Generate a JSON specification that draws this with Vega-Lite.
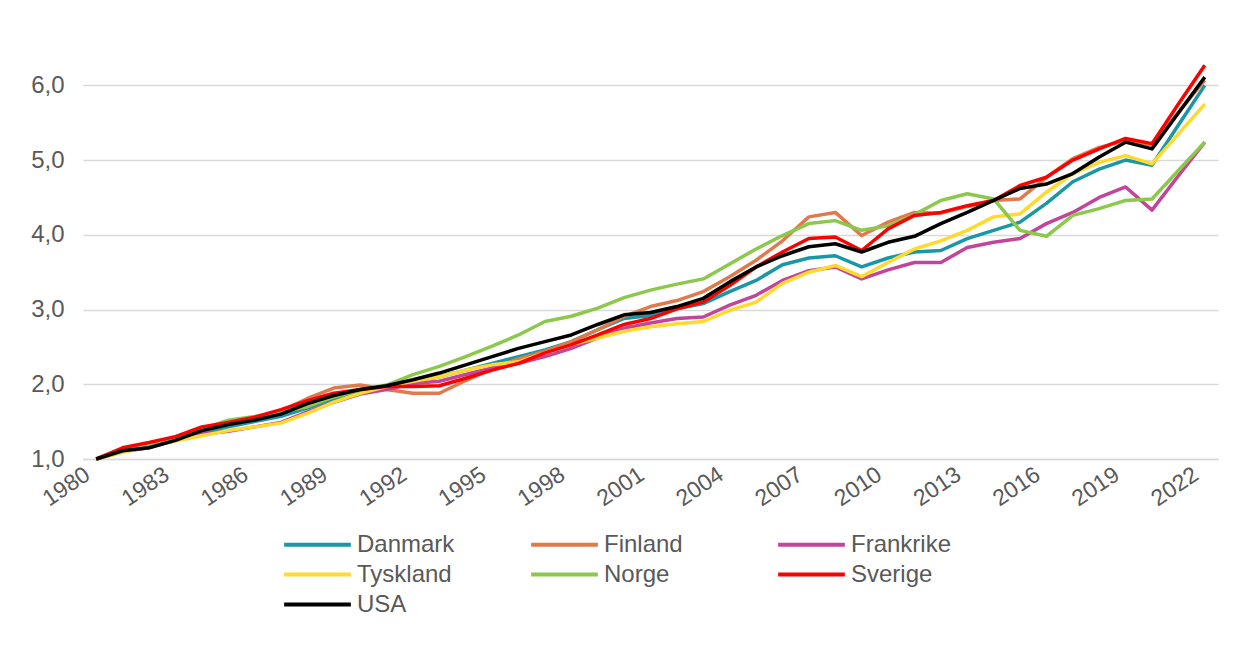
{
  "$schema": "https://vega.github.io/schema/vega-lite/v6.json",
  "width": 1135,
  "height": 411,
  "autosize": {"type": "none"},
  "padding": {"left": 83, "top": 48, "right": 32, "bottom": 187},
  "background": "white",
  "config": {
    "view": {"stroke": null},
    "font": "Liberation Sans",
    "axis": {"labelFont": "Liberation Sans", "labelColor": "#595959"},
    "legend": {"labelFont": "Liberation Sans", "labelColor": "#595959"}
  },
  "data": {
    "values": [
      {"year": 1980, "Danmark": 1.00, "Finland": 1.00, "Frankrike": 1.00, "Tyskland": 1.00, "Norge": 1.00, "Sverige": 1.00, "USA": 1.00},
      {"year": 1981, "Danmark": 1.10, "Finland": 1.14, "Frankrike": 1.10, "Tyskland": 1.09, "Norge": 1.12, "Sverige": 1.15, "USA": 1.11},
      {"year": 1982, "Danmark": 1.17, "Finland": 1.21, "Frankrike": 1.15, "Tyskland": 1.17, "Norge": 1.19, "Sverige": 1.22, "USA": 1.15},
      {"year": 1983, "Danmark": 1.26, "Finland": 1.29, "Frankrike": 1.25, "Tyskland": 1.24, "Norge": 1.28, "Sverige": 1.30, "USA": 1.25},
      {"year": 1984, "Danmark": 1.35, "Finland": 1.41, "Frankrike": 1.33, "Tyskland": 1.31, "Norge": 1.40, "Sverige": 1.43, "USA": 1.38},
      {"year": 1985, "Danmark": 1.43, "Finland": 1.48, "Frankrike": 1.37, "Tyskland": 1.38, "Norge": 1.52, "Sverige": 1.49, "USA": 1.46},
      {"year": 1986, "Danmark": 1.50, "Finland": 1.55, "Frankrike": 1.43, "Tyskland": 1.43, "Norge": 1.57, "Sverige": 1.56, "USA": 1.52},
      {"year": 1987, "Danmark": 1.57, "Finland": 1.64, "Frankrike": 1.49, "Tyskland": 1.48, "Norge": 1.63, "Sverige": 1.66, "USA": 1.60},
      {"year": 1988, "Danmark": 1.68, "Finland": 1.81, "Frankrike": 1.63, "Tyskland": 1.61, "Norge": 1.70, "Sverige": 1.78, "USA": 1.74},
      {"year": 1989, "Danmark": 1.80, "Finland": 1.95, "Frankrike": 1.76, "Tyskland": 1.76, "Norge": 1.83, "Sverige": 1.88, "USA": 1.85},
      {"year": 1990, "Danmark": 1.90, "Finland": 1.99, "Frankrike": 1.87, "Tyskland": 1.88, "Norge": 1.92, "Sverige": 1.93, "USA": 1.93},
      {"year": 1991, "Danmark": 1.96, "Finland": 1.93, "Frankrike": 1.93, "Tyskland": 1.97, "Norge": 1.99, "Sverige": 1.97, "USA": 1.98},
      {"year": 1992, "Danmark": 2.04, "Finland": 1.88, "Frankrike": 2.01, "Tyskland": 2.04, "Norge": 2.13, "Sverige": 1.97, "USA": 2.06},
      {"year": 1993, "Danmark": 2.10, "Finland": 1.88, "Frankrike": 2.04, "Tyskland": 2.10, "Norge": 2.24, "Sverige": 1.98, "USA": 2.15},
      {"year": 1994, "Danmark": 2.19, "Finland": 2.05, "Frankrike": 2.13, "Tyskland": 2.19, "Norge": 2.37, "Sverige": 2.08, "USA": 2.26},
      {"year": 1995, "Danmark": 2.28, "Finland": 2.21, "Frankrike": 2.22, "Tyskland": 2.26, "Norge": 2.51, "Sverige": 2.19, "USA": 2.37},
      {"year": 1996, "Danmark": 2.37, "Finland": 2.34, "Frankrike": 2.28, "Tyskland": 2.30, "Norge": 2.66, "Sverige": 2.28, "USA": 2.48},
      {"year": 1997, "Danmark": 2.46, "Finland": 2.44, "Frankrike": 2.37, "Tyskland": 2.42, "Norge": 2.84, "Sverige": 2.42, "USA": 2.57},
      {"year": 1998, "Danmark": 2.57, "Finland": 2.57, "Frankrike": 2.48, "Tyskland": 2.53, "Norge": 2.91, "Sverige": 2.53, "USA": 2.66},
      {"year": 1999, "Danmark": 2.73, "Finland": 2.73, "Frankrike": 2.62, "Tyskland": 2.62, "Norge": 3.02, "Sverige": 2.66, "USA": 2.80},
      {"year": 2000, "Danmark": 2.88, "Finland": 2.91, "Frankrike": 2.75, "Tyskland": 2.71, "Norge": 3.16, "Sverige": 2.80, "USA": 2.93},
      {"year": 2001, "Danmark": 2.92, "Finland": 3.04, "Frankrike": 2.82, "Tyskland": 2.77, "Norge": 3.26, "Sverige": 2.88, "USA": 2.96},
      {"year": 2002, "Danmark": 3.01, "Finland": 3.12, "Frankrike": 2.88, "Tyskland": 2.81, "Norge": 3.34, "Sverige": 3.01, "USA": 3.04},
      {"year": 2003, "Danmark": 3.08, "Finland": 3.24, "Frankrike": 2.90, "Tyskland": 2.84, "Norge": 3.41, "Sverige": 3.10, "USA": 3.15},
      {"year": 2004, "Danmark": 3.24, "Finland": 3.44, "Frankrike": 3.06, "Tyskland": 2.99, "Norge": 3.61, "Sverige": 3.32, "USA": 3.37},
      {"year": 2005, "Danmark": 3.39, "Finland": 3.66, "Frankrike": 3.19, "Tyskland": 3.10, "Norge": 3.81, "Sverige": 3.57, "USA": 3.57},
      {"year": 2006, "Danmark": 3.60, "Finland": 3.92, "Frankrike": 3.39, "Tyskland": 3.35, "Norge": 3.99, "Sverige": 3.77, "USA": 3.72},
      {"year": 2007, "Danmark": 3.69, "Finland": 4.24, "Frankrike": 3.52, "Tyskland": 3.50, "Norge": 4.15, "Sverige": 3.95, "USA": 3.84},
      {"year": 2008, "Danmark": 3.72, "Finland": 4.30, "Frankrike": 3.57, "Tyskland": 3.59, "Norge": 4.19, "Sverige": 3.97, "USA": 3.88},
      {"year": 2009, "Danmark": 3.57, "Finland": 3.99, "Frankrike": 3.41, "Tyskland": 3.44, "Norge": 4.06, "Sverige": 3.79, "USA": 3.77},
      {"year": 2010, "Danmark": 3.69, "Finland": 4.17, "Frankrike": 3.53, "Tyskland": 3.63, "Norge": 4.12, "Sverige": 4.08, "USA": 3.90},
      {"year": 2011, "Danmark": 3.77, "Finland": 4.30, "Frankrike": 3.63, "Tyskland": 3.81, "Norge": 4.27, "Sverige": 4.26, "USA": 3.98},
      {"year": 2012, "Danmark": 3.79, "Finland": 4.29, "Frankrike": 3.63, "Tyskland": 3.92, "Norge": 4.46, "Sverige": 4.30, "USA": 4.15},
      {"year": 2013, "Danmark": 3.95, "Finland": 4.38, "Frankrike": 3.83, "Tyskland": 4.06, "Norge": 4.55, "Sverige": 4.39, "USA": 4.30},
      {"year": 2014, "Danmark": 4.06, "Finland": 4.46, "Frankrike": 3.90, "Tyskland": 4.24, "Norge": 4.48, "Sverige": 4.46, "USA": 4.46},
      {"year": 2015, "Danmark": 4.17, "Finland": 4.48, "Frankrike": 3.95, "Tyskland": 4.28, "Norge": 4.06, "Sverige": 4.66, "USA": 4.62},
      {"year": 2016, "Danmark": 4.42, "Finland": 4.77, "Frankrike": 4.15, "Tyskland": 4.57, "Norge": 3.98, "Sverige": 4.77, "USA": 4.68},
      {"year": 2017, "Danmark": 4.71, "Finland": 5.02, "Frankrike": 4.30, "Tyskland": 4.82, "Norge": 4.26, "Sverige": 5.00, "USA": 4.82},
      {"year": 2018, "Danmark": 4.88, "Finland": 5.17, "Frankrike": 4.50, "Tyskland": 4.97, "Norge": 4.35, "Sverige": 5.15, "USA": 5.04},
      {"year": 2019, "Danmark": 5.00, "Finland": 5.26, "Frankrike": 4.64, "Tyskland": 5.06, "Norge": 4.46, "Sverige": 5.29, "USA": 5.24},
      {"year": 2020, "Danmark": 4.93, "Finland": 5.20, "Frankrike": 4.33, "Tyskland": 4.95, "Norge": 4.48, "Sverige": 5.22, "USA": 5.15},
      {"year": 2021, "Danmark": 5.47, "Finland": 5.64, "Frankrike": 4.79, "Tyskland": 5.35, "Norge": 4.86, "Sverige": 5.75, "USA": 5.63},
      {"year": 2022, "Danmark": 6.00, "Finland": 6.07, "Frankrike": 5.24, "Tyskland": 5.75, "Norge": 5.24, "Sverige": 6.27, "USA": 6.11}
    ]
  },
  "transform": [
    {"fold": ["Danmark", "Finland", "Frankrike", "Tyskland", "Norge", "Sverige", "USA"], "as": ["land", "verdi"]}
  ],
  "mark": {"type": "line", "strokeWidth": 3.5, "strokeJoin": "round"},
  "encoding": {
    "x": {
      "field": "year",
      "type": "ordinal",
      "scale": {"type": "point", "padding": 0.5},
      "axis": {
        "title": null,
        "values": [1980, 1983, 1986, 1989, 1992, 1995, 1998, 2001, 2004, 2007, 2010, 2013, 2016, 2019, 2022],
        "labelAngle": -34,
        "labelAlign": "right",
        "labelBaseline": "middle",
        "labelFontSize": 23,
        "labelPadding": 13,
        "labelOffset": -9,
        "ticks": false,
        "domain": true,
        "domainColor": "#d9d9d9",
        "domainWidth": 1.5,
        "grid": false
      }
    },
    "y": {
      "field": "verdi",
      "type": "quantitative",
      "scale": {"domain": [1, 6.5], "nice": false, "zero": false},
      "axis": {
        "title": null,
        "values": [1, 2, 3, 4, 5, 6],
        "labelExpr": "replace(format(datum.value, '.1f'), '.', ',')",
        "labelFontSize": 24,
        "labelPadding": 19,
        "ticks": false,
        "domain": false,
        "grid": true,
        "gridColor": "#d9d9d9",
        "gridWidth": 1.5
      }
    },
    "color": {
      "field": "land",
      "type": "nominal",
      "sort": ["Danmark", "Finland", "Frankrike", "Tyskland", "Norge", "Sverige", "USA"],
      "scale": {
        "domain": ["Danmark", "Finland", "Frankrike", "Tyskland", "Norge", "Sverige", "USA"],
        "range": ["#1a97a6", "#e07a4c", "#c2449b", "#ffd92e", "#8cc84b", "#ff0000", "#000000"]
      },
      "legend": {
        "title": null,
        "orient": "none",
        "direction": "horizontal",
        "legendX": 221,
        "legendY": 483,
        "columns": 3,
        "gridAlign": "all",
        "symbolType": "M-2.9,0H2.9",
        "symbolSize": 529,
        "symbolStrokeWidth": 4,
        "symbolFillColor": "transparent",
        "labelFontSize": 24,
        "labelOffset": 26,
        "columnPadding": 65,
        "rowPadding": 4,
        "labelLimit": 300
      }
    }
  }
}
